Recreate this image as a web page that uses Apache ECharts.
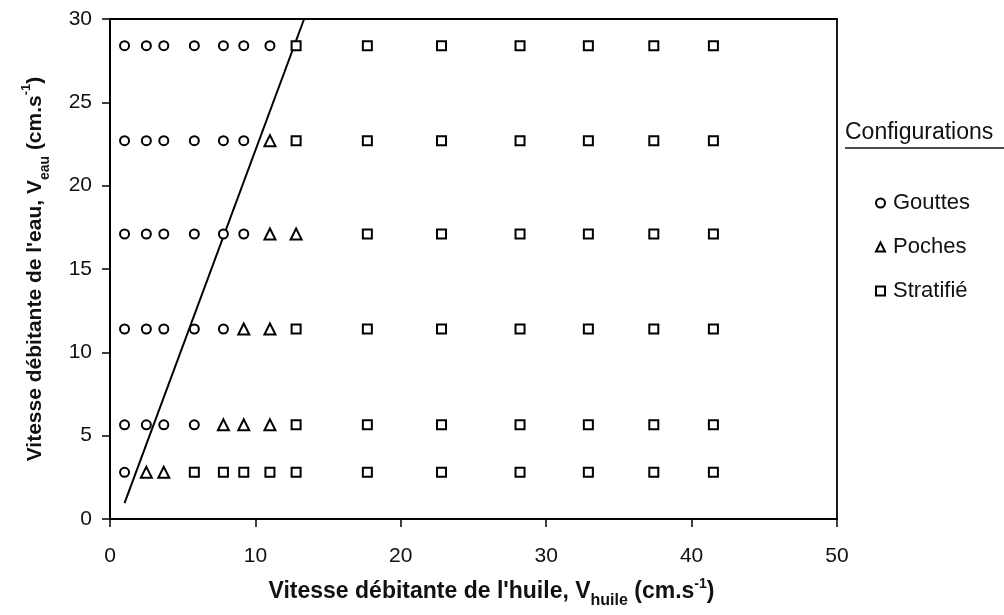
<!DOCTYPE html>
<html><head><meta charset="utf-8">
<script src="https://cdn.jsdelivr.net/npm/echarts@6/dist/echarts.min.js"></script>
<style>html,body{margin:0;padding:0;background:#fff}#c{width:1004px;height:615px}</style>
</head><body><div id="c"></div>
<script>
const oilSpeeds = [1.0, 2.5, 3.7, 5.8, 7.8, 9.2, 11.0, 12.8, 17.7, 22.8, 28.2, 32.9, 37.4, 41.5];
const waterSpeeds = [2.8, 5.65, 11.4, 17.1, 22.7, 28.4];
// regime per row (G = Gouttes, P = Poches, S = Stratifié), one char per oil speed
const regimes = [
  'GPPSSSSSSSSSSS',
  'GGGGPPPSSSSSSS',
  'GGGGGPPSSSSSSS',
  'GGGGGGPPSSSSSS',
  'GGGGGGPSSSSSSS',
  'GGGGGGGSSSSSSS'
];
const seriesNames = ['Gouttes', 'Poches', 'Stratifié'];
const seriesCodes = ['G', 'P', 'S'];
const seriesSymbols = ['circle', 'triangle', 'rect'];
const boundaryLine = [[1.0, 0.95], [13.35, 30]];
const xTicks = [0, 10, 20, 30, 40, 50];
const yTicks = [0, 5, 10, 15, 20, 25, 30];

function pointsFor(code) {
  const out = [];
  waterSpeeds.forEach((w, r) => {
    oilSpeeds.forEach((o, c) => { if (regimes[r][c] === code) out.push([o, w]); });
  });
  return out;
}

const font = 'Liberation Sans, Arial, sans-serif';
const ink = '#111';
const scatterSeries = seriesNames.map((n, i) => ({
  name: n, type: 'scatter', data: pointsFor(seriesCodes[i]),
  symbol: seriesSymbols[i], symbolSize: seriesSymbols[i] === 'triangle' ? 11 : 9,
  itemStyle: { color: '#fff', borderColor: '#000', borderWidth: 2, opacity: 1 },
  z: 3
}));

function titleRich(size) {
  return {
    t: { fontSize: size, fontWeight: 'bold', fontFamily: font, color: ink, verticalAlign: 'bottom', lineHeight: 26 },
    sub: { fontSize: Math.round(size * 0.68), fontWeight: 'bold', fontFamily: font, color: ink, verticalAlign: 'bottom', lineHeight: 26, padding: [0, 0, -6, 0] },
    sup: { fontSize: Math.round(size * 0.62), fontWeight: 'bold', fontFamily: font, color: ink, verticalAlign: 'top', lineHeight: 26, padding: [0, 0, 10, 0] }
  };
}

const chart = echarts.init(document.getElementById('c'), null, { renderer: 'canvas' });
chart.setOption({
  animation: false,
  backgroundColor: '#fff',
  grid: { left: 110, right: 167, top: 19, bottom: 96, show: true, borderColor: '#000', borderWidth: 1.8, backgroundColor: 'transparent' },
  xAxis: {
    type: 'value', min: xTicks[0], max: xTicks[xTicks.length - 1], interval: 10,
    axisLine: { lineStyle: { color: '#000', width: 2 } },
    axisTick: { inside: false, length: 8, lineStyle: { color: '#000', width: 1.5 } },
    splitLine: { show: false },
    axisLabel: { color: ink, fontSize: 21, fontFamily: font, margin: 27 },
    name: '{t|Vitesse débitante de l\'huile, V}{sub|huile}{t| (cm.s}{sup|-1}{t|)}',
    nameLocation: 'middle', nameGap: 58,
    nameTextStyle: { padding: [0, 0, 0, 36], rich: titleRich(23) }
  },
  yAxis: {
    type: 'value', min: yTicks[0], max: yTicks[yTicks.length - 1], interval: 5,
    axisLine: { lineStyle: { color: '#000', width: 2 } },
    axisTick: { inside: false, length: 8, lineStyle: { color: '#000', width: 1.5 } },
    splitLine: { show: false },
    axisLabel: { color: ink, fontSize: 21, fontFamily: font, margin: 18 },
    name: '{t|Vitesse débitante de l\'eau, V}{sub|eau}{t| (cm.s}{sup|-1}{t|)}',
    nameLocation: 'middle', nameGap: 64, nameRotate: 90,
    nameTextStyle: { rich: titleRich(21) }
  },
  legend: {
    data: seriesNames, orient: 'vertical', left: 870, top: 187, itemGap: 22,
    itemWidth: 9, itemHeight: 9,
    itemStyle: { color: '#fff', borderColor: '#000', borderWidth: 2 },
    textStyle: { fontSize: 22, fontFamily: font, color: ink, padding: [0, 0, 0, 3] }
  },
  graphic: [
    { type: 'text', left: 845, top: 121, style: { text: 'Configurations', fontSize: 23, fontFamily: font, fill: ink } },
    { type: 'line', shape: { x1: 845, y1: 148, x2: 1004, y2: 148 }, style: { stroke: ink, lineWidth: 1.5 } }
  ],
  series: [
    {
      name: 'limite', type: 'line', data: boundaryLine, showSymbol: false, symbol: 'none',
      lineStyle: { color: '#000', width: 2 }, z: 2, silent: true
    },
    ...scatterSeries
  ]
});
</script></body></html>
